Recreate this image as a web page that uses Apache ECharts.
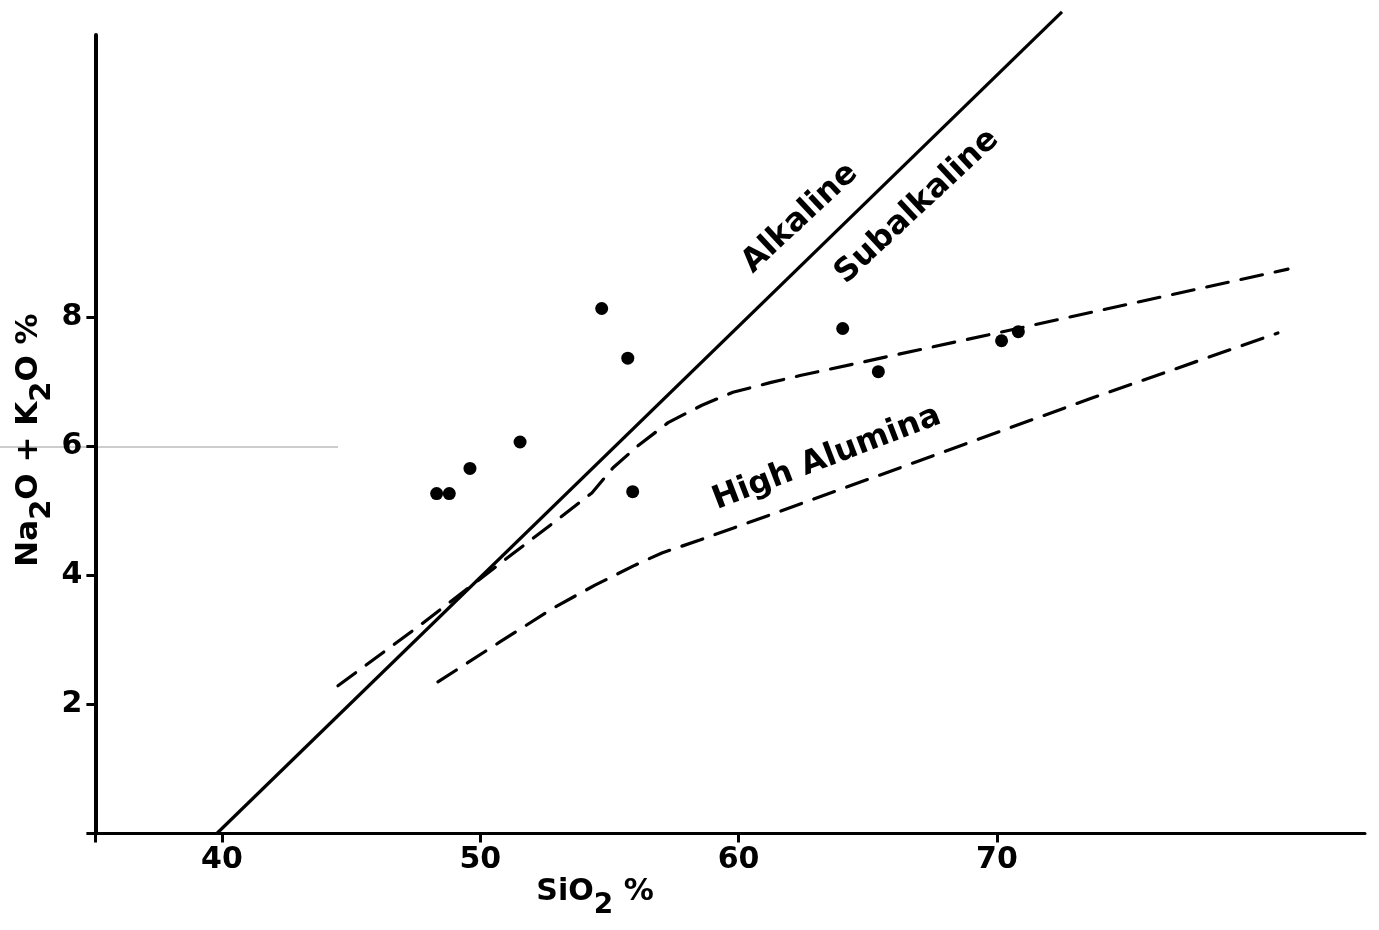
<!DOCTYPE html>
<html><head><meta charset="utf-8">
<script src="https://cdn.jsdelivr.net/npm/echarts@6/dist/echarts.min.js"></script>
<style>html,body{margin:0;padding:0;background:#fff}#c{width:1379px;height:930px}</style>
</head><body><div id="c"></div>
<script>
// Samples
const sampleSiO2 = [54.70, 55.71, 51.54, 49.60, 48.31, 48.80, 55.90, 64.03, 65.41, 70.18, 70.83];
const sampleAlk  = [8.14, 7.37, 6.07, 5.66, 5.27, 5.27, 5.30, 7.83, 7.16, 7.64, 7.78];
// Alkaline / Subalkaline boundary (solid)
const boundarySiO2 = [39.8, 72.52];
const boundaryAlk  = [0, 12.74];
// Upper dashed curve
const upperSiO2 = [44.49, 47.67, 49.68, 51.23, 52.81, 54.32, 55.14, 56.10, 57.27, 58.58, 59.78, 61.22, 62.38, 70.12, 81.27];
const upperAlk  = [2.29, 3.23, 3.85, 4.33, 4.81, 5.28, 5.67, 6.01, 6.37, 6.64, 6.84, 6.99, 7.10, 7.77, 8.75];
// Lower dashed curve
const lowerSiO2 = [48.36, 50.76, 52.89, 54.44, 55.99, 57.03, 58.50, 61.29, 73.60, 80.88];
const lowerAlk  = [2.35, 2.97, 3.51, 3.85, 4.16, 4.35, 4.55, 4.95, 6.74, 7.76];
// Ticks
const xTickLabels = [40, 50, 60, 70];
const yTickLabels = [2, 4, 6, 8];
// Region names
const regionNames = ['Alkaline', 'Subalkaline', 'High Alumina'];
const regionSiO2  = [62.38, 66.91, 63.42];
const regionAlk   = [9.54, 9.72, 5.82];
const regionAngle = [43, 43, 21];

const XMIN = 35.1, XMAX = 84.25, YMIN = 0, YMAX = 12.38;
const FONT = 'DejaVu Sans';
const zip = (a, b) => a.map((v, i) => [v, b[i]]);

const chart = echarts.init(document.getElementById('c'));
chart.setOption({
  animation: false,
  backgroundColor: '#fff',
  grid: { left: 95.4, right: 14, top: 35, bottom: 96.5, containLabel: false },
  xAxis: {
    type: 'value', min: XMIN, max: XMAX,
    axisLine: { onZero: false, lineStyle: { color: '#000', width: 3 } },
    axisTick: { customValues: [XMIN].concat(xTickLabels), length: 9, lineStyle: { color: '#000', width: 3 } },
    axisLabel: { customValues: xTickLabels, color: '#000', fontSize: 30, fontWeight: 'bold', fontFamily: FONT, margin: 12 },
    splitLine: { show: false }
  },
  yAxis: {
    type: 'value', min: YMIN, max: YMAX,
    axisLine: { show: true, onZero: false, lineStyle: { color: '#000', width: 4 } },
    axisTick: { show: true, customValues: [0].concat(yTickLabels), length: 9, lineStyle: { color: '#000', width: 3 } },
    axisLabel: { customValues: yTickLabels, color: '#000', fontSize: 30, fontWeight: 'bold', fontFamily: FONT, margin: 13 },
    splitLine: { show: false }
  },
  graphic: [
    { type: 'line', shape: { x1: 0, y1: 447, x2: 338, y2: 447 }, style: { stroke: '#9a9a9a', lineWidth: 1 }, silent: true },
    {
      type: 'text', x: 595, y: 877,
      style: {
        text: '{a|SiO}{s|2}{a| %}', align: 'center', verticalAlign: 'top',
        rich: {
          a: { fontSize: 30, fontWeight: 'bold', fontFamily: FONT, fill: '#000', lineHeight: 34, verticalAlign: 'top' },
          s: { fontSize: 28, fontWeight: 'bold', fontFamily: FONT, fill: '#000', lineHeight: 34, verticalAlign: 'top', padding: [15, 0, 0, 0] }
        }
      }
    },
    {
      type: 'text', x: 13, y: 440, rotation: Math.PI / 2,
      style: {
        text: '{a|Na}{s|2}{a|O + K}{s|2}{a|O %}', align: 'center', verticalAlign: 'top',
        rich: {
          a: { fontSize: 31, fontWeight: 'bold', fontFamily: FONT, fill: '#000', lineHeight: 34, verticalAlign: 'top' },
          s: { fontSize: 29, fontWeight: 'bold', fontFamily: FONT, fill: '#000', lineHeight: 34, verticalAlign: 'top', padding: [15, 0, 0, 0] }
        }
      }
    }
  ],
  series: [
    { type: 'line', data: zip(boundarySiO2, boundaryAlk), symbol: 'none', clip: false,
      lineStyle: { color: '#000', width: 3.2 } },
    { type: 'line', data: zip(upperSiO2, upperAlk), symbol: 'none', clip: false,
      lineStyle: { color: '#000', width: 3.2, type: [22, 13], cap: 'round' } },
    { type: 'line', data: zip(lowerSiO2, lowerAlk), symbol: 'none', clip: false,
      lineStyle: { color: '#000', width: 3.2, type: [22, 13], cap: 'round' } },
    { type: 'scatter', data: zip(sampleSiO2, sampleAlk), symbol: 'circle', symbolSize: 13,
      itemStyle: { color: '#000', opacity: 1 } },
    { type: 'scatter', symbolSize: 0, silent: true,
      itemStyle: { opacity: 1 },
      data: regionNames.map((n, i) => ({ name: n, value: [regionSiO2[i], regionAlk[i]], label: { rotate: regionAngle[i] } })),
      label: { show: true, position: 'inside', formatter: p => p.name, color: '#000', opacity: 1, fontSize: 32, fontWeight: 'bold', fontFamily: FONT } }
  ]
});
</script></body></html>
